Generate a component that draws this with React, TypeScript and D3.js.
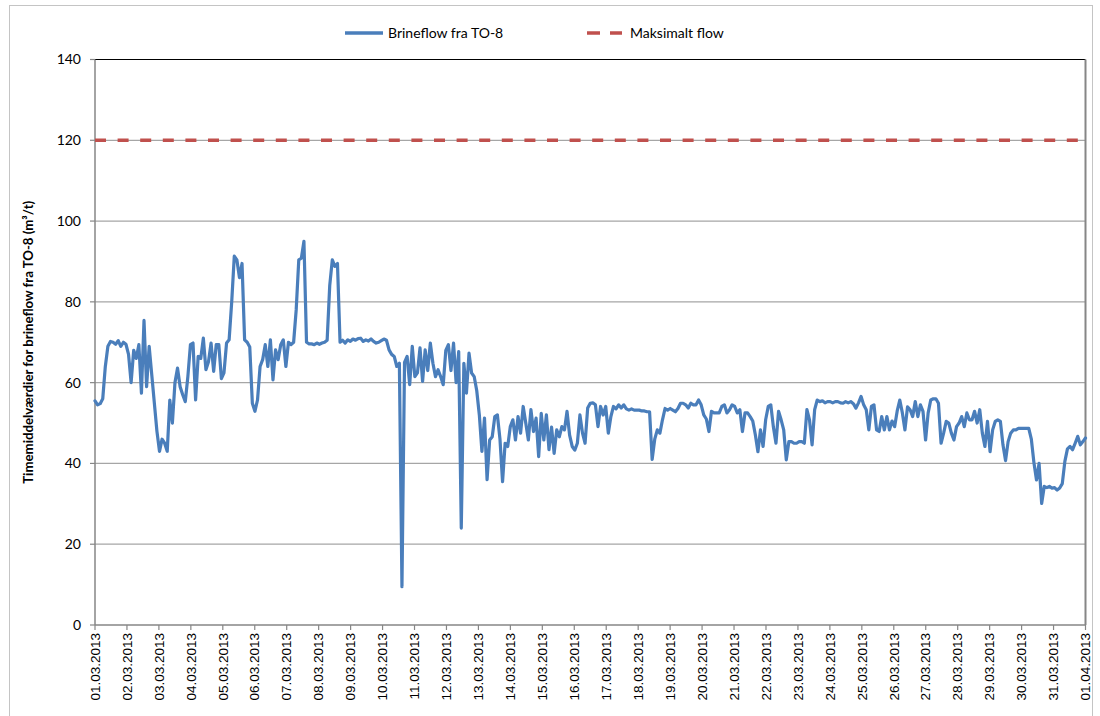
import * as d3 from "d3";

// Hourly-average brine flow (m³/t), evenly spaced readings through March 2013
const part1 = [
  55.5, 54.5, 54.8, 56, 64, 69, 70.2, 70, 69.5, 70.4, 69, 70,
  69.5, 67, 60, 68, 66, 69.4, 57.4, 75.4, 59, 69, 62, 55,
  48, 43, 46, 45, 43, 55.7, 50, 60, 63.6, 59, 57, 55.3,
  61.5, 69.4, 69.8, 55.7, 66.5, 66, 71, 63.2, 65.2, 69.8, 62.8, 69.4,
  69.4, 61, 62.4, 69.8, 70.6, 80, 91.3, 90.4, 86, 89.5, 70.6, 70,
  68.8, 54.9, 52.9, 55.7, 64, 65.7, 69.4, 64, 70.6, 60.7, 68.1, 65.7,
  69.4, 70.6, 64, 70, 69.4, 70, 78, 90.4, 90.8, 95, 70, 69.6,
];
const part2 = [
  69.6, 69.4, 69.8, 69.5, 69.8, 70, 70.5, 84, 90.4, 88.8, 89.5, 70,
  70.5, 69.8, 70.6, 70.2, 70.8, 70.5, 70.9, 71, 70.2, 70.6, 70.3, 70.8,
  70.2, 69.8, 70, 70.4, 70.8, 70.5, 68.1, 67, 66.5, 64, 64.8, 9.5,
  65, 66.5, 59.5, 69, 61.5, 62.4, 68.6, 60.3, 68.1, 63, 69.8, 64.8,
  61.5, 63.2, 61.5, 59.5, 68, 69.4, 63, 69.8, 60, 67.7, 24, 64.8,
  57.4, 67.3, 62.4, 61.5, 58, 52, 43, 51.2, 36, 45.8, 46.6, 51.6,
  52, 46, 35.5, 45, 44.2, 49.1, 50.8, 45.8, 51.6, 47.5, 54.1, 50,
];
const part3 = [
  45.8, 53.3, 47.9, 51.2, 41.7, 52.4, 45.8, 52, 43.4, 49, 42.5, 48.3,
  46.6, 49.1, 48.3, 52.9, 47, 44.2, 43.3, 45, 52, 47.5, 45, 53.7,
  54.9, 55, 54.5, 49.1, 54.1, 52, 54.1, 47.5, 51.6, 54.1, 53.5, 54.5,
  53.7, 54.5, 53.5, 53.2, 53.5, 53.2, 53.2, 53.2, 53, 53, 52.8, 52.8,
  41, 46, 48.3, 47.5, 50.8, 53.6, 53.2, 53.6, 53.2, 52.8, 53.6, 54.9,
  54.9, 54.5, 53.7, 54.9, 54.5, 54.5, 55.7, 54.5, 52, 51, 47.9, 52.9,
  52.5, 52.5, 52.5, 54.1, 54.5, 52.5, 53.3, 54.5, 54.1, 52.5, 53.3, 47.9,
];
const part4 = [
  52.5, 52.5, 51.6, 50.5, 47.1, 42.9, 48.3, 44.2, 50.8, 54.1, 54.5, 49,
  45, 52.9, 50.8, 48.3, 40.9, 45.4, 45.4, 45, 45, 45.4, 45.4, 45,
  53.3, 50.8, 44.6, 53.3, 55.7, 55.3, 55.5, 55, 55.3, 55.3, 55, 55.3,
  55.3, 55, 54.9, 55.3, 55, 55.3, 54.8, 53.7, 55, 56.6, 54.5, 53.3,
  48.3, 54.1, 54.5, 48.3, 47.9, 51.6, 48.3, 51.6, 48.3, 50.5, 49.1, 53,
  55.7, 52.5, 48.3, 54, 53.3, 51.6, 55.3, 51.6, 54.5, 52.9, 45.8, 52.5,
  55.7, 56, 56, 54.9, 45, 47.5, 50.4, 50, 47.5, 45.8, 49.1, 50,
];
const part5 = [
  51.6, 49.1, 52.5, 50.8, 50.8, 52.9, 50, 53.3, 47.5, 44.2, 50.4, 42.9,
  48.3, 50.4, 50.8, 50.4, 44.6, 40.7, 45.4, 47.5, 48.3, 48.3, 48.7, 48.7,
  48.7, 48.7, 48.7, 46, 40.2, 35.9, 40, 30.1, 34.3, 34, 34.3, 33.9,
  34, 33.4, 33.9, 35, 40.5, 43.6, 44.2, 43.4, 45, 46.7, 44.6, 45.4,
  46.3,
];

const maxFlow = 120;
const yTicks = [0, 20, 40, 60, 80, 100, 120, 140];
const seriesName = "Brineflow fra TO-8";
const limitName = "Maksimalt flow";
const yTitle = "Timemiddelværdier for brineflow fra TO-8 (m³/t)";

const START = new Date(Date.UTC(2013, 2, 1));
const END = new Date(Date.UTC(2013, 3, 1));

const W = 1100;
const H = 716;
const M = { left: 95, right: 1085.5, top: 59.5, bottom: 625 };
const BLUE = "#4a7ebb";
const RED = "#c0504d";
const GRID = "#a6a6a6";
const AXIS = "#868686";
const FONT = "Lato, 'Open Sans', sans-serif";

const values = [...part1, ...part2, ...part3, ...part4, ...part5];
const stepMs = (END.getTime() - START.getTime()) / (values.length - 1);
const data = values.map((v, i) => ({ t: new Date(START.getTime() + i * stepMs), v }));

export default function App() {
  const x = d3.scaleUtc().domain([START, END]).range([M.left, M.right]);
  const y = d3.scaleLinear().domain([0, 140]).range([M.bottom, M.top]);
  const days = d3.utcDay.range(START, d3.utcDay.offset(END, 1));
  const fmt = d3.utcFormat("%d.%m.%Y");

  const line = d3
    .line<{ t: Date; v: number }>()
    .x((d) => x(d.t))
    .y((d) => y(d.v));

  return (
    <svg
      width={W}
      height={H}
      style={{ position: "absolute", left: 0, top: 0, background: "#fff" }}
    >
      <rect x={9.5} y={5.5} width={1083} height={720} fill="#fff" stroke="#c4c4c4" />

      {/* legend */}
      <line x1={345} x2={383} y1={33} y2={33} stroke={BLUE} strokeWidth={3.5} />
      <text x={388} y={33} dy="0.35em" fontFamily={FONT} fontSize={14} fill="#000">
        {seriesName}
      </text>
      <line x1={587} x2={622} y1={33} y2={33} stroke={RED} strokeWidth={3.5} strokeDasharray="13 10" />
      <text x={630} y={33} dy="0.35em" fontFamily={FONT} fontSize={14} fill="#000">
        {limitName}
      </text>

      {/* grid */}
      {yTicks.slice(1, -1).map((t) => (
        <line key={t} x1={M.left} x2={M.right} y1={y(t)} y2={y(t)} stroke={GRID} strokeWidth={1.2} />
      ))}
      <line x1={M.left} x2={M.right} y1={y(140)} y2={y(140)} stroke="#000" strokeWidth={1} />
      <line x1={M.right} x2={M.right} y1={y(140)} y2={M.bottom} stroke={AXIS} strokeWidth={2} />

      {/* y axis */}
      <line x1={M.left} x2={M.left} y1={y(140)} y2={M.bottom} stroke={AXIS} strokeWidth={1.5} />
      {yTicks.map((t) => (
        <g key={t}>
          <line x1={M.left - 5} x2={M.left} y1={y(t)} y2={y(t)} stroke={AXIS} strokeWidth={1.2} />
          <text x={81} y={y(t)} dy="0.35em" textAnchor="end" fontFamily={FONT} fontSize={14} fill="#000">
            {t}
          </text>
        </g>
      ))}
      <text
        transform={`translate(28, ${(M.top + M.bottom) / 2}) rotate(-90)`}
        textAnchor="middle"
        dy="0.35em"
        fontFamily={FONT}
        fontSize={13}
        fontWeight="bold"
        textLength={283}
        lengthAdjust="spacingAndGlyphs"
      >
        {yTitle}
      </text>

      {/* x axis */}
      <line x1={M.left} x2={M.right} y1={M.bottom} y2={M.bottom} stroke={AXIS} strokeWidth={1.5} />
      {days.map((d) => (
        <g key={d.getTime()}>
          <line x1={x(d)} x2={x(d)} y1={M.bottom} y2={M.bottom + 5} stroke={AXIS} strokeWidth={1.2} />
          <text
            transform={`translate(${x(d)}, 633) rotate(-90)`}
            textAnchor="end"
            dy="0.35em"
            fontFamily="'Liberation Sans', Arial, sans-serif"
            fontSize={13.5}
            fill="#000"
          >
            {fmt(d)}
          </text>
        </g>
      ))}

      {/* max flow */}
      <line
        x1={M.left}
        x2={M.right}
        y1={y(maxFlow)}
        y2={y(maxFlow)}
        stroke={RED}
        strokeWidth={3.5}
        strokeDasharray="11 11.6"
      />

      {/* series */}
      <path
        d={line(data) ?? ""}
        fill="none"
        stroke={BLUE}
        strokeWidth={3.2}
        strokeLinejoin="round"
        strokeLinecap="round"
      />
    </svg>
  );
}
